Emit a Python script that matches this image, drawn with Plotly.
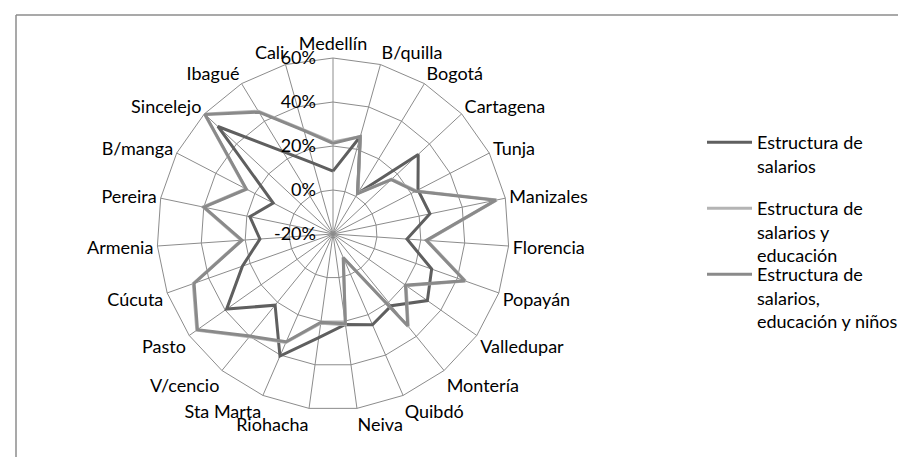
import plotly.graph_objects as go

categories = ["Medellín", "B/quilla", "Bogotá", "Cartagena", "Tunja", "Manizales",
              "Florencia", "Popayán", "Valledupar", "Montería", "Quibdó", "Neiva",
              "Riohacha", "Sta Marta", "V/cencio", "Pasto", "Cúcuta", "Armenia",
              "Pereira", "B/manga", "Sincelejo", "Ibagué", "Cali"]

salarios = [8.6, 26, 1.5, 33, 23.5, 25, 13.7, 27.6, 32.5, 22, 25, 21.5,
            27.5, 40.5, 21.7, 39.2, 23.7, 13.3, 18.6, 10.6, 51.6, 24, 13.5]
salarios_educ = [21.8, 26, 1.8, 16.6, 22.6, 56, 22.9, 43.9, 20.7, 34.2, -8.1, 21.6,
                 20.9, 33.8, 40.2, 55.8, 47.4, 21.8, 40.3, 24.7, 59.9, 45.3, 29.2]
salarios_educ_ninos = [21.2, 26, 1.4, 16.2, 22.2, 55.6, 22.5, 43.5, 20.3, 33.8, -8.4, 21.2,
                       20.5, 33.4, 39.8, 55.4, 47.0, 21.4, 39.9, 24.3, 59.5, 44.8, 28.8]

names = ["Estructura de<br>salarios",
         "Estructura de<br>salarios y<br>educación",
         "Estructura de<br>salarios,<br>educación y niños"]
colors = ["#5f5f5f", "#b4b4b4", "#8a8a8a"]

radial_ticks = [-20, 0, 20, 40, 60]

FONT = "Lato"
FS = 18

fig = go.Figure()
series = [salarios, salarios_educ, salarios_educ_ninos]
for i, (vals, nm, col) in enumerate(zip(series, names, colors)):
    fig.add_trace(go.Scatterpolar(
        r=vals + [vals[0]], theta=categories + [categories[0]],
        mode="lines", name=nm, line=dict(color=col, width=3),
        legend="legend" if i == 0 else f"legend{i+1}",
    ))

W, H = 906, 457
cx, cy, R = 325, 226, 176

legend_common = dict(font=dict(family=FONT, size=FS, color="#000"),
                     valign="top", bgcolor="rgba(0,0,0,0)", borderwidth=0,
                     xanchor="left", yanchor="top", itemwidth=45)

fig.update_layout(
    width=W, height=H,
    margin=dict(l=0, r=0, t=0, b=0),
    paper_bgcolor="white",
    font=dict(family=FONT, size=FS, color="#000"),
    polar=dict(
        domain=dict(x=[(cx - R) / W, (cx + R) / W], y=[(H - cy - R) / H, (H - cy + R) / H]),
        bgcolor="white",
        gridshape="linear",
        radialaxis=dict(range=[-20, 60], tickvals=radial_ticks,
                        ticktext=[f"{v}%\u00a0\u00a0\u00a0" for v in radial_ticks],
                        angle=90, tickangle=90, showline=False, ticks="",
                        gridcolor="#8c8c8c", gridwidth=1,
                        tickfont=dict(family=FONT, size=FS, color="#000"),
                        side="counterclockwise"),
        angularaxis=dict(categoryorder="array", categoryarray=categories,
                         direction="clockwise", rotation=90,
                         gridcolor="#8c8c8c", linecolor="#8c8c8c", showline=True,
                         ticks="", tickfont=dict(family=FONT, size=FS, color="#000")),
    ),
    showlegend=True,
    legend=dict(x=694 / W, y=1 - 116 / H, **legend_common),
    legend2=dict(x=694 / W, y=1 - 182 / H, **legend_common),
    legend3=dict(x=694 / W, y=1 - 248 / H, **legend_common),
    shapes=[
        dict(type="line", xref="paper", yref="paper", x0=8 / W, x1=1.0, y0=1 - 7 / H, y1=1 - 7 / H,
             line=dict(color="#8c8c8c", width=1.5)),
        dict(type="line", xref="paper", yref="paper", x0=8 / W, x1=8 / W, y0=0, y1=1 - 7 / H,
             line=dict(color="#8c8c8c", width=1.5)),
    ],
)

fig.write_html("out.html")
